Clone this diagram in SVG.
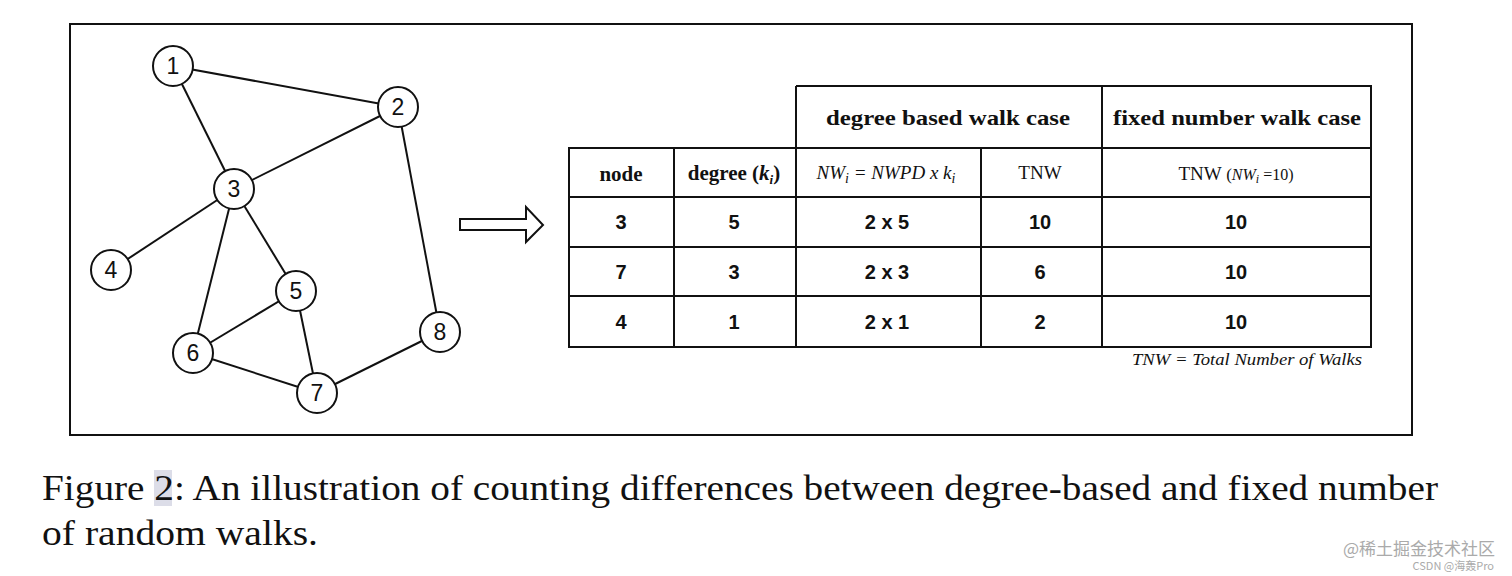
<svg xmlns="http://www.w3.org/2000/svg" width="1512" height="576" viewBox="0 0 1512 576">
<style>
.edge{stroke:#111;stroke-width:2;fill:none}
.node circle{fill:#fff;stroke:#111;stroke-width:2}
.node text{font-family:"Liberation Sans",Arial,sans-serif;font-size:23px;fill:#111;text-anchor:middle;dominant-baseline:central}
.grid{stroke:#111;stroke-width:2;fill:none}
.hdr{font-family:"Liberation Serif","Times New Roman",serif;font-weight:bold;font-size:21px;fill:#111;text-anchor:middle}
.hdr2{font-family:"Liberation Serif","Times New Roman",serif;font-size:19px;fill:#111;text-anchor:middle}
.it{font-style:italic}
.cell{font-family:"Liberation Sans",Arial,sans-serif;font-weight:bold;font-size:20px;fill:#111;text-anchor:middle}
.cap{font-family:"Liberation Serif","Times New Roman",serif;font-size:36px;fill:#111}
.wm{font-family:"Noto Sans CJK SC","Liberation Sans",sans-serif;fill:#aaa}
</style>
<rect x="0" y="0" width="1512" height="576" fill="#fff"/>
<rect x="70" y="24" width="1342" height="411" fill="none" stroke="#111" stroke-width="2"/>
<g id="connectors">
<line class="edge" x1="173" y1="66" x2="398" y2="107"/>
<line class="edge" x1="173" y1="66" x2="234" y2="189"/>
<line class="edge" x1="398" y1="107" x2="234" y2="189"/>
<line class="edge" x1="398" y1="107" x2="440" y2="332"/>
<line class="edge" x1="234" y1="189" x2="111" y2="270"/>
<line class="edge" x1="234" y1="189" x2="296" y2="291"/>
<line class="edge" x1="234" y1="189" x2="193" y2="353"/>
<line class="edge" x1="296" y1="291" x2="193" y2="353"/>
<line class="edge" x1="296" y1="291" x2="317" y2="393"/>
<line class="edge" x1="193" y1="353" x2="317" y2="393"/>
<line class="edge" x1="317" y1="393" x2="440" y2="332"/>
</g>
<g id="n1" class="node"><circle cx="173" cy="66" r="20"/><text x="173" y="66">1</text></g>
<g id="n2" class="node"><circle cx="398" cy="107" r="20"/><text x="398" y="107">2</text></g>
<g id="n3" class="node"><circle cx="234" cy="189" r="20"/><text x="234" y="189">3</text></g>
<g id="n4" class="node"><circle cx="111" cy="270" r="20"/><text x="111" y="270">4</text></g>
<g id="n5" class="node"><circle cx="296" cy="291" r="20"/><text x="296" y="291">5</text></g>
<g id="n6" class="node"><circle cx="193" cy="353" r="20"/><text x="193" y="353">6</text></g>
<g id="n7" class="node"><circle cx="317" cy="393" r="20"/><text x="317" y="393">7</text></g>
<g id="n8" class="node"><circle cx="440" cy="332" r="20"/><text x="440" y="332">8</text></g>
<g id="arrow">
<polygon points="460,219 526,219 526,207 543,225 526,242 526,230 460,230" fill="#fff" stroke="#111" stroke-width="2"/>
</g>
<g id="table">
<path class="grid" d="M796,86 H1371 V347 H569 V148 H1371 M796,86 V347 M1102,86 V347 M674,148 V347 M981,148 V347 M569,197 H1371 M569,247 H1371 M569,296 H1371"/>
<text class="hdr" x="948" y="125" textLength="244" lengthAdjust="spacingAndGlyphs">degree based walk case</text>
<text class="hdr" x="1237" y="125" textLength="248" lengthAdjust="spacingAndGlyphs">fixed number walk case</text>
<text class="hdr" x="621" y="181" font-size="19">node</text>
<text class="hdr" x="734" y="180" font-size="19">degree (<tspan class="it">k<tspan font-size="13" dy="4">i</tspan></tspan><tspan dy="-4">)</tspan></text>
<text class="hdr2 it" x="886" y="179" font-size="21">NW<tspan font-size="14" dy="4">i</tspan><tspan dy="-4"> = NWPD x k</tspan><tspan font-size="14" dy="4">i</tspan></text>
<text class="hdr2" x="1040" y="179">TNW</text>
<text class="hdr2" x="1236" y="180">TNW <tspan font-size="17">(</tspan><tspan class="it" font-size="16">NW</tspan><tspan class="it" font-size="12" dy="3">i</tspan><tspan font-size="16" dy="-3"> =10)</tspan></text>
<text class="cell" x="621" y="229">3</text>
<text class="cell" x="734" y="229">5</text>
<text class="cell" x="887" y="229">2 x 5</text>
<text class="cell" x="1040" y="229">10</text>
<text class="cell" x="1236" y="229">10</text>
<text class="cell" x="621" y="279">7</text>
<text class="cell" x="734" y="279">3</text>
<text class="cell" x="887" y="279">2 x 3</text>
<text class="cell" x="1040" y="279">6</text>
<text class="cell" x="1236" y="279">10</text>
<text class="cell" x="621" y="329">4</text>
<text class="cell" x="734" y="329">1</text>
<text class="cell" x="887" y="329">2 x 1</text>
<text class="cell" x="1040" y="329">2</text>
<text class="cell" x="1236" y="329">10</text>
<text x="1362" y="365" font-family="Liberation Serif, Times New Roman, serif" font-style="italic" font-size="16" fill="#111" text-anchor="end" textLength="230" lengthAdjust="spacingAndGlyphs">TNW = Total Number of Walks</text>
</g>
<rect x="154" y="470" width="18" height="36" fill="#dcdde8"/>
<text class="cap" x="42" y="500" textLength="1396" lengthAdjust="spacingAndGlyphs">Figure 2:  An illustration of counting differences between degree-based and fixed number</text>
<text class="cap" x="42" y="545" textLength="276" lengthAdjust="spacingAndGlyphs">of random walks.</text>
<text class="wm" x="1495" y="555" font-size="17" text-anchor="end">@稀土掘金技术社区</text>
<text class="wm" x="1494" y="570" font-size="11" text-anchor="end">CSDN @海轰Pro</text>
</svg>
